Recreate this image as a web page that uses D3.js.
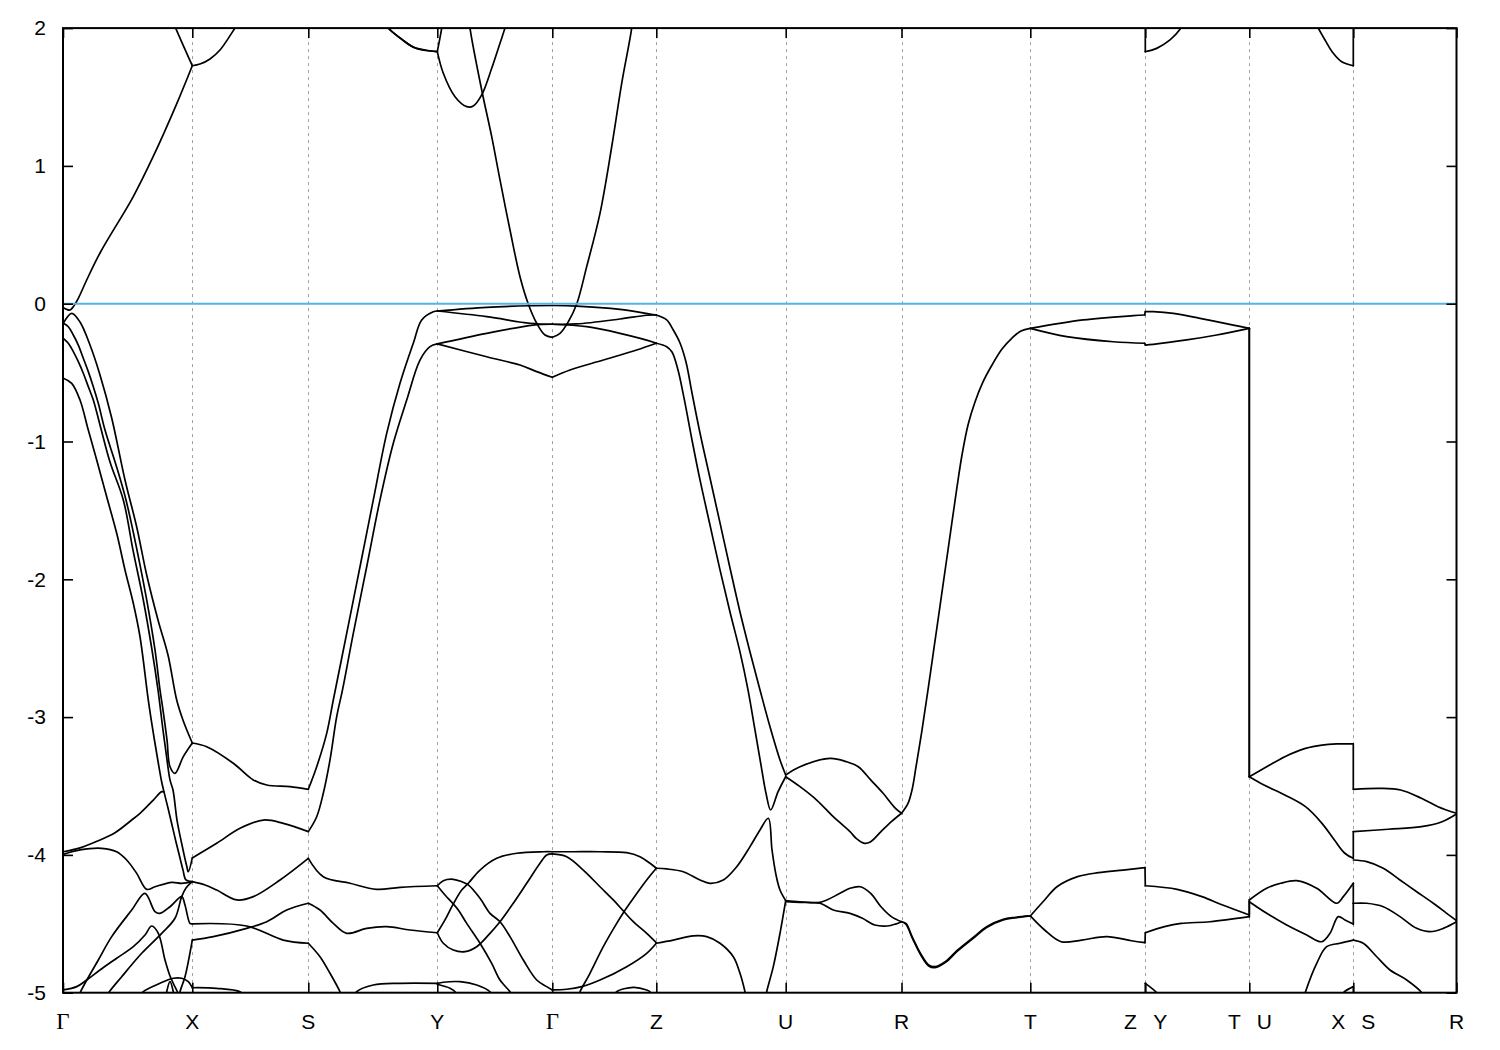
<!DOCTYPE html>
<html><head><meta charset="utf-8">
<script src="https://cdn.jsdelivr.net/npm/d3@7"></script>
<style>body{margin:0;background:#fff;}</style>
</head><body>
<svg id="chart" width="1500" height="1050"></svg>
<script>
// ---- axes data ----
const kTicks = [0, 1.293, 2.453, 3.743, 4.893, 5.933, 7.227, 8.385, 9.673, 10.823, 11.863, 12.903, 13.935];
const kLabels = ["Γ","X","S","Y","Γ","Z","U","R","T","Z|Y","T|U","X|S","R"];
const eTicks = [2, 1, 0, -1, -2, -3, -4, -5];
const fermiLevel = 0;

// ---- bands: [k, E(eV)] ----
const bandC1 = [[0.003,-0.029],[0.037,-0.041],[0.07,-0.046],[0.103,-0.022],[0.153,0.039],[0.237,0.172],[0.37,0.368],[0.70,0.774],[0.90,1.065],[1.14,1.456],[1.293,1.727],[1.37,1.739],[1.47,1.776],[1.57,1.841],[1.72,2.0],[1.76,2.04]];
const bandC2 = [[1.10,2.05],[1.127,2.0],[1.293,1.727]];
const bandCY1 = [[3.20,2.04],[3.25,2.0],[3.37,1.928],[3.50,1.863],[3.62,1.841],[3.743,1.829],[3.803,1.672],[3.92,1.502],[4.037,1.43],[4.103,1.435],[4.187,1.515],[4.287,1.708],[4.37,1.89],[4.42,2.0],[4.44,2.05]];
const bandCY1b = [[3.22,2.04],[3.27,1.99],[3.39,1.918],[3.52,1.856],[3.743,1.829]];
const bandCY2 = [[3.743,1.829],[3.787,2.0],[3.795,2.05]];
const bandCG = [[4.05,2.15],[4.07,2.0],[4.187,1.551],[4.287,1.212],[4.37,0.898],[4.47,0.535],[4.57,0.196],[4.653,-0.002],[4.737,-0.142],[4.82,-0.227],[4.893,-0.244],[4.97,-0.215],[5.053,-0.131],[5.137,-0.002],[5.237,0.269],[5.37,0.656],[5.487,1.139],[5.587,1.599],[5.687,2.0],[5.70,2.1]];
const bandCZY = [[10.823,2.1],[10.823,1.829],[10.937,1.853],[11.07,1.914],[11.17,1.991],[11.19,2.02]];
const bandCXS = [[12.54,2.02],[12.553,2.0],[12.62,1.914],[12.703,1.817],[12.787,1.756],[12.903,1.727],[12.903,2.1]];

const bandV1 = [[0.003,-0.142],[0.087,-0.070],[0.17,-0.133],[0.27,-0.300],[0.37,-0.517],[0.487,-0.829],[0.62,-1.279],[0.737,-1.620],[0.837,-1.969],[0.95,-2.295],[1.05,-2.549],[1.137,-2.876],[1.203,-3.028],[1.293,-3.188]];
const bandV2 = [[0.003,-0.142],[0.053,-0.167],[0.103,-0.227],[0.153,-0.300],[0.203,-0.396],[0.253,-0.493],[0.303,-0.602],[0.353,-0.723],[0.42,-0.917],[0.53,-1.170],[0.63,-1.424],[0.74,-1.788],[0.837,-2.150],[0.92,-2.513],[0.97,-2.803],[1.00,-2.949],[1.04,-3.166],[1.07,-3.360],[1.12,-3.408],[1.203,-3.287],[1.293,-3.188]];
const bandV3 = [[0.003,-0.251],[0.053,-0.287],[0.103,-0.348],[0.153,-0.421],[0.203,-0.505],[0.253,-0.602],[0.303,-0.699],[0.37,-0.880],[0.47,-1.149],[0.603,-1.424],[0.70,-1.788],[0.803,-2.150],[0.89,-2.513],[0.95,-2.803],[1.00,-3.094],[1.04,-3.311],[1.07,-3.456],[1.10,-3.529],[1.14,-3.747],[1.19,-3.928],[1.237,-4.081],[1.253,-4.122],[1.293,-4.022]];
const bandV4 = [[0.003,-0.541],[0.087,-0.578],[0.17,-0.699],[0.253,-0.917],[0.337,-1.134],[0.437,-1.401],[0.537,-1.666],[0.62,-1.932],[0.703,-2.174],[0.77,-2.417],[0.853,-2.876],[0.903,-3.115],[0.953,-3.333],[0.987,-3.471],[1.01,-3.543],[1.05,-3.660],[1.09,-3.783],[1.13,-3.906],[1.17,-4.022],[1.20,-4.110],[1.23,-4.182],[1.293,-4.194]];

const bandG1 = [[0.003,-3.977],[0.187,-3.945],[0.353,-3.897],[0.52,-3.839],[0.687,-3.747],[0.77,-3.698],[0.903,-3.602],[0.987,-3.541],[1.01,-3.543]];
const bandG2 = [[0.003,-3.996],[0.17,-3.964],[0.387,-3.952],[0.537,-3.977],[0.637,-4.037],[0.737,-4.134],[0.837,-4.250],[0.92,-4.231],[1.087,-4.199],[1.187,-4.206],[1.293,-4.194],[1.42,-4.218],[1.537,-4.255],[1.737,-4.327],[1.903,-4.303],[2.17,-4.182],[2.453,-4.025],[2.603,-4.158],[2.87,-4.206],[3.137,-4.250],[3.37,-4.235],[3.743,-4.224]];
const bandG3 = [[0.16,-5.04],[0.17,-5.004],[0.353,-4.763],[0.487,-4.593],[0.687,-4.400],[0.82,-4.279],[0.92,-4.412],[0.97,-4.424],[1.07,-4.376],[1.187,-4.303],[1.22,-4.364],[1.27,-4.497],[1.293,-4.500],[1.837,-4.516],[2.203,-4.618],[2.453,-4.641],[2.57,-4.739],[2.67,-4.859],[2.77,-4.993],[2.79,-5.03]];
const bandG4 = [[0.003,-4.980],[0.137,-4.956],[0.237,-4.908],[0.37,-4.835],[0.537,-4.750],[0.703,-4.666],[0.82,-4.581],[0.887,-4.516],[0.953,-4.569],[1.02,-4.763],[1.07,-4.879],[1.12,-4.958],[1.15,-5.004],[1.16,-5.03]];
const bandG5 = [[0.43,-5.04],[0.453,-5.004],[0.587,-4.884],[0.787,-4.714],[0.987,-4.569],[1.12,-4.46],[1.187,-4.303],[1.23,-4.24],[1.293,-4.194]];
const bandXB1 = [[0.78,-5.02],[0.803,-4.993],[0.97,-4.932],[1.103,-4.895],[1.187,-4.895],[1.253,-4.920],[1.293,-4.964],[1.537,-4.968],[1.77,-4.993],[1.80,-5.02]];
const bandXB2 = [[1.03,-5.03],[1.037,-4.993],[1.07,-4.920],[1.103,-4.993],[1.11,-5.03]];

const bandXS1 = [[1.293,-3.188],[1.437,-3.215],[1.703,-3.335],[1.903,-3.456],[2.037,-3.493],[2.27,-3.505],[2.453,-3.524],[2.537,-3.360],[2.637,-3.118],[2.703,-2.876],[2.837,-2.392],[2.97,-1.909],[3.103,-1.424],[3.237,-0.941],[3.37,-0.578],[3.503,-0.287],[3.587,-0.118],[3.703,-0.058],[3.743,-0.053]];
const bandXS2 = [[1.16,-5.05],[1.17,-4.993],[1.22,-4.884],[1.293,-4.618],[1.503,-4.593],[1.837,-4.533],[2.037,-4.485],[2.237,-4.400],[2.453,-4.351],[2.57,-4.400],[2.703,-4.497],[2.837,-4.569],[3.037,-4.533],[3.237,-4.521],[3.47,-4.545],[3.743,-4.565]];
const bandXS3 = [[1.293,-4.022],[1.537,-3.916],[1.77,-3.807],[2.003,-3.747],[2.203,-3.771],[2.453,-3.831],[2.537,-3.723],[2.603,-3.553],[2.67,-3.311],[2.737,-2.997],[2.795,-2.803],[2.903,-2.392],[3.037,-1.909],[3.17,-1.424],[3.303,-1.013],[3.437,-0.699],[3.57,-0.409],[3.67,-0.312],[3.743,-0.292]];

const bandT1 = [[3.743,-0.053],[4.237,-0.026],[4.67,-0.015],[4.893,-0.013],[5.137,-0.017],[5.57,-0.041],[5.87,-0.075],[5.933,-0.082],
  [6.037,-0.118],[6.103,-0.191],[6.17,-0.285],[6.23,-0.423],[6.29,-0.648],[6.37,-0.938],[6.47,-1.265],[6.57,-1.591],[6.67,-1.918],[6.77,-2.237],[6.87,-2.527],[6.97,-2.803],[7.07,-3.070],[7.17,-3.311],[7.227,-3.420],
  [7.37,-3.360],[7.67,-3.299],[7.837,-3.324],[7.953,-3.360],[8.077,-3.456],[8.201,-3.553],[8.325,-3.662],[8.385,-3.698],
  [8.45,-3.626],[8.49,-3.529],[8.53,-3.362],[8.59,-3.094],[8.65,-2.803],[8.71,-2.498],[8.77,-2.194],[8.83,-1.889],[8.89,-1.584],[8.94,-1.330],[8.99,-1.098],[9.05,-0.880],[9.12,-0.713],[9.20,-0.568],[9.29,-0.445],[9.39,-0.329],[9.49,-0.249],[9.58,-0.198],[9.673,-0.179],
  [10.203,-0.118],[10.703,-0.087],[10.817,-0.082],[10.823,-0.058],[10.903,-0.058],[11.103,-0.070],[11.37,-0.106],[11.703,-0.155],[11.863,-0.179],[11.863,-3.433],
  [12.01,-3.372],[12.218,-3.287],[12.425,-3.227],[12.59,-3.203],[12.735,-3.195],[12.903,-3.195],[12.903,-3.524],[13.17,-3.517],[13.377,-3.529],[13.584,-3.589],[13.75,-3.650],[13.935,-3.698]];
const bandT2 = [[3.743,-0.053],[4.237,-0.094],[4.67,-0.142],[4.893,-0.149],[5.137,-0.147],[5.57,-0.111],[5.837,-0.084],[5.933,-0.082]];
const bandT3 = [[3.743,-0.292],[4.237,-0.215],[4.703,-0.155],[4.893,-0.149],[5.237,-0.167],[5.57,-0.215],[5.92,-0.283],[5.933,-0.287],
  [6.037,-0.312],[6.09,-0.351],[6.15,-0.481],[6.21,-0.684],[6.29,-0.989],[6.37,-1.279],[6.47,-1.606],[6.57,-1.932],[6.67,-2.237],[6.77,-2.527],[6.85,-2.803],[6.92,-3.094],[6.98,-3.348],[7.03,-3.553],[7.077,-3.674],[7.15,-3.543],[7.227,-3.433],
  [7.37,-3.505],[7.537,-3.602],[7.703,-3.723],[7.87,-3.831],[7.932,-3.880],[8.015,-3.916],[8.077,-3.904],[8.18,-3.831],[8.284,-3.759],[8.385,-3.698]];
const bandT4 = [[3.743,-0.292],[4.237,-0.385],[4.57,-0.445],[4.737,-0.493],[4.893,-0.534],[5.07,-0.481],[5.403,-0.409],[5.737,-0.336],[5.933,-0.287]];
const bandT5 = [[9.673,-0.179],[10.037,-0.239],[10.503,-0.276],[10.817,-0.287],[10.823,-0.300],[10.903,-0.295],[11.237,-0.263],[11.537,-0.227],[11.863,-0.179],[11.863,-3.433],
  [12.01,-3.493],[12.218,-3.565],[12.425,-3.650],[12.59,-3.771],[12.714,-3.892],[12.818,-3.988],[12.903,-4.025],[12.903,-3.831],[13.253,-3.814],[13.584,-3.795],[13.79,-3.759],[13.935,-3.703]];

const bandL1 = [[7.227,-4.332],[7.37,-4.340],[7.57,-4.344],[7.77,-4.279],[7.87,-4.242],[7.974,-4.231],[8.077,-4.279],[8.18,-4.376],[8.284,-4.448],[8.385,-4.485],
  [8.429,-4.497],[8.491,-4.593],[8.574,-4.714],[8.657,-4.799],[8.719,-4.811],[8.822,-4.775],[8.947,-4.690],[9.112,-4.593],[9.236,-4.521],[9.402,-4.467],[9.526,-4.453],[9.673,-4.443],
  [9.816,-4.327],[9.94,-4.231],[10.146,-4.158],[10.353,-4.129],[10.601,-4.110],[10.82,-4.093],[10.823,-4.224],[11.141,-4.250],[11.389,-4.303],[11.596,-4.364],[11.863,-4.436],[11.863,-4.327],
  [12.037,-4.242],[12.177,-4.206],[12.337,-4.187],[12.537,-4.242],[12.737,-4.351],[12.803,-4.303],[12.903,-4.206],[12.903,-4.351],
  [13.037,-4.351],[13.203,-4.376],[13.37,-4.448],[13.537,-4.533],[13.67,-4.557],[13.803,-4.533],[13.935,-4.485]];
const bandL2 = [[7.227,-4.340],[7.37,-4.344],[7.57,-4.351],[7.703,-4.400],[7.87,-4.424],[7.994,-4.460],[8.118,-4.509],[8.243,-4.516],[8.325,-4.502],[8.385,-4.485],
  [8.429,-4.503],[8.491,-4.600],[8.574,-4.721],[8.657,-4.806],[8.719,-4.818],[8.822,-4.782],[8.947,-4.697],[9.112,-4.600],[9.236,-4.527],[9.402,-4.472],[9.526,-4.456],[9.673,-4.443],
  [9.816,-4.545],[9.981,-4.630],[10.188,-4.618],[10.437,-4.593],[10.685,-4.623],[10.82,-4.637],[10.823,-4.565],[11.015,-4.521],[11.181,-4.497],[11.47,-4.485],[11.863,-4.448],[11.863,-4.340],
  [12.037,-4.424],[12.237,-4.509],[12.437,-4.581],[12.587,-4.630],[12.67,-4.569],[12.753,-4.448],[12.82,-4.472],[12.903,-4.502],[12.903,-4.351]];
const bandL3 = [[12.903,-4.037],[13.037,-4.049],[13.203,-4.097],[13.37,-4.182],[13.537,-4.267],[13.703,-4.351],[13.837,-4.424],[13.935,-4.477]];

const bandY1 = [[3.743,-4.224],[3.803,-4.187],[3.903,-4.177],[3.987,-4.194],[4.053,-4.218],[4.17,-4.315],[4.27,-4.424],[4.37,-4.485],[4.47,-4.593],[4.603,-4.763],[4.737,-4.908],[4.837,-4.956],[4.893,-4.980],[5.037,-4.975],[5.187,-4.956],[5.37,-4.908],[5.637,-4.811],[5.837,-4.714],[5.933,-4.641],[6.103,-4.618],[6.303,-4.588],[6.437,-4.593],[6.57,-4.641],[6.703,-4.739],[6.77,-4.859],[6.82,-4.993],[6.83,-5.03]];
const bandY2 = [[3.743,-4.224],[3.82,-4.291],[3.903,-4.356],[3.953,-4.400],[4.037,-4.497],[4.17,-4.641],[4.287,-4.787],[4.37,-4.908],[4.47,-4.993],[4.49,-5.02]];
const bandY3 = [[3.743,-4.565],[3.82,-4.472],[3.903,-4.356],[3.987,-4.255],[4.053,-4.206],[4.17,-4.110],[4.337,-4.025],[4.537,-3.988],[4.803,-3.977],[4.893,-3.977],[5.103,-3.977],[5.37,-3.977],[5.637,-3.984],[5.77,-4.013],[5.87,-4.061],[5.933,-4.097],[6.037,-4.102],[6.203,-4.122],[6.37,-4.182],[6.47,-4.206],[6.603,-4.182],[6.737,-4.086],[6.87,-3.940],[6.97,-3.819],[7.053,-3.734],[7.09,-3.964],[7.13,-4.145],[7.17,-4.255],[7.227,-4.332]];
const bandY4 = [[3.743,-4.565],[3.803,-4.641],[3.903,-4.690],[4.02,-4.702],[4.137,-4.666],[4.27,-4.569],[4.37,-4.485],[4.503,-4.351],[4.637,-4.206],[4.77,-4.061],[4.837,-4.001],[4.893,-3.993],[5.037,-4.013],[5.203,-4.110],[5.37,-4.231],[5.503,-4.327],[5.61,-4.412],[5.703,-4.485],[5.837,-4.569],[5.933,-4.637]];
const bandZ1 = [[5.155,-5.03],[5.17,-4.993],[5.27,-4.859],[5.403,-4.666],[5.537,-4.497],[5.61,-4.412],[5.703,-4.315],[5.837,-4.182],[5.933,-4.097]];
const bandZ2 = [[5.52,-5.02],[5.537,-4.993],[5.703,-4.961],[5.837,-4.980],[5.87,-4.993],[5.89,-5.02]];
const bandU1 = [[7.227,-4.332],[7.17,-4.569],[7.103,-4.811],[7.037,-4.993],[7.03,-5.03]];
const bandS1 = [[2.92,-5.02],[2.937,-4.993],[3.103,-4.944],[3.37,-4.932],[3.743,-4.932],[3.803,-4.924],[3.97,-4.920],[4.137,-4.944],[4.27,-4.993],[4.29,-5.02]];
const bandS2 = [[3.743,-4.939],[3.87,-4.968],[3.92,-4.993],[3.93,-5.02]];
const bandB1 = [[10.823,-5.02],[10.823,-4.932],[10.937,-5.0],[10.95,-5.02]];
const bandB2 = [[12.80,-5.01],[12.815,-4.993],[12.903,-4.956],[12.903,-5.02]];
const bandB3 = [[12.41,-5.03],[12.425,-4.993],[12.537,-4.787],[12.637,-4.666],[12.77,-4.641],[12.903,-4.618],[13.003,-4.641],[13.137,-4.739],[13.27,-4.835],[13.437,-4.908],[13.587,-5.0],[13.60,-5.02]];

const bands = [bandC1,bandC2,bandCY1,bandCY1b,bandCY2,bandCG,bandCZY,bandCXS,
  bandV1,bandV2,bandV3,bandV4,bandG1,bandG2,bandG3,bandG4,bandG5,bandXB1,bandXB2,
  bandXS1,bandXS2,bandXS3,bandT1,bandT2,bandT3,bandT4,bandT5,bandL1,bandL2,bandL3,
  bandY1,bandY2,bandY3,bandY4,bandZ1,bandZ2,bandU1,bandS1,bandS2,bandB1,bandB2,bandB3];

// ---- drawing ----
const svg = d3.select("#chart");
const plotL = 63, plotR = 1456.5, plotT = 28.1, plotB = 992.7;
const x = d3.scaleLinear().domain([kTicks[0], kTicks[kTicks.length-1]]).range([plotL, plotR]);
const y = d3.scaleLinear().domain([d3.min(eTicks), d3.max(eTicks)]).range([plotB, plotT]);
const sans = "'Liberation Sans', Arial, Helvetica, sans-serif";

svg.append("rect").attr("width",1500).attr("height",1050).attr("fill","#fff");
svg.append("defs").append("clipPath").attr("id","clip").append("rect")
  .attr("x",plotL).attr("y",plotT).attr("width",plotR-plotL).attr("height",plotB-plotT);

// dashed verticals at high-symmetry points
svg.append("g").selectAll("line").data(kTicks.slice(1,-1)).join("line")
  .attr("x1",d=>Math.round(x(d))+0.5).attr("x2",d=>Math.round(x(d))+0.5)
  .attr("y1",plotT).attr("y2",plotB)
  .attr("stroke","#a0a0a0").attr("stroke-width",1).attr("stroke-dasharray","3,4");

// split each band at the high-symmetry points so kinks there stay sharp
function splitAtTicks(band){
  const out = []; let cur = [band[0]];
  for (let i = 1; i < band.length; i++){
    const p = band[i]; cur.push(p);
    const atTick = kTicks.some(t => Math.abs(t - p[0]) < 0.008);
    if (atTick && i < band.length - 1){ out.push(cur); cur = [p]; }
  }
  out.push(cur);
  return out;
}
const pieces = bands.flatMap(splitAtTicks);
const line = d3.line().x(d=>x(d[0])).y(d=>y(d[1])).curve(d3.curveCatmullRom.alpha(0.5));
svg.append("g").attr("clip-path","url(#clip)").selectAll("path").data(pieces).join("path")
  .attr("d",line).attr("fill","none").attr("stroke","#000").attr("stroke-width",1.7)
  .attr("stroke-linejoin","round").attr("stroke-linecap","round");

// Fermi level
svg.append("line").attr("x1",plotL).attr("x2",plotR)
  .attr("y1",y(fermiLevel)).attr("y2",y(fermiLevel))
  .attr("stroke","#55b2e6").attr("stroke-width",2);

// axes ticks
function styleAxis(g){
  g.select(".domain").remove();
  g.selectAll(".tick line").attr("stroke","#000").attr("stroke-width",1.6);
  g.selectAll("text").attr("font-size",21).attr("font-family",sans).attr("fill","#000");
}
svg.append("g").attr("transform",`translate(${plotL},0)`)
  .call(d3.axisLeft(y).tickValues(eTicks).tickSize(-10).tickPadding(17).tickFormat(d=>String(d))).call(styleAxis);
svg.append("g").attr("transform",`translate(${plotR},0)`)
  .call(d3.axisRight(y).tickValues(eTicks).tickSize(-10).tickFormat("")).call(styleAxis);
svg.append("g").attr("transform",`translate(0,${plotB})`)
  .call(d3.axisBottom(x).tickValues(kTicks).tickSize(-10).tickFormat("")).call(styleAxis);
svg.append("g").attr("transform",`translate(0,${plotT})`)
  .call(d3.axisTop(x).tickValues(kTicks).tickSize(-10).tickFormat("")).call(styleAxis);

// x labels
const lab = svg.append("g");
kLabels.forEach((t,i)=>{
  const parts = t.split("|");
  parts.forEach((p,j)=>{
    const off = parts.length===2 ? (j===0 ? -15 : 15) : 0;
    const isG = p==="Γ";
    lab.append("text").attr("x",x(kTicks[i])+off).attr("y",1028.5)
      .attr("text-anchor","middle")
      .attr("font-size",isG?23:21)
      .attr("font-family",isG?"'Liberation Serif','DejaVu Serif',serif":sans)
      .attr("fill","#000").text(p);
  });
});

// frame
svg.append("rect").attr("x",plotL).attr("y",plotT).attr("width",plotR-plotL).attr("height",plotB-plotT)
  .attr("fill","none").attr("stroke","#000").attr("stroke-width",2);
</script>
</body></html>
